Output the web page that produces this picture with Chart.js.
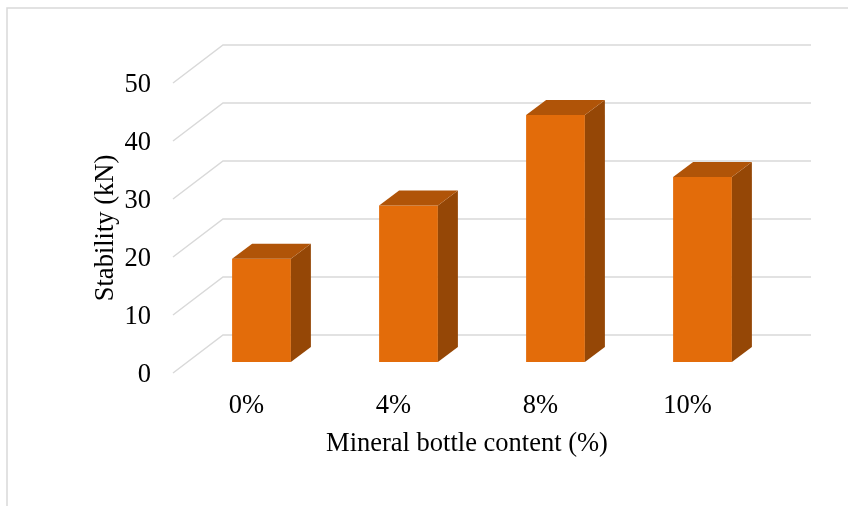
<!DOCTYPE html>
<html>
<head>
<meta charset="utf-8">
<script src="https://cdn.jsdelivr.net/npm/chart.js@4/dist/chart.umd.min.js"></script>
<style>
  html, body { margin: 0; padding: 0; background: #fff; }
  #wrap { width: 848px; height: 506px; }
</style>
</head>
<body>
<div id="wrap"><canvas id="stabilityChart"></canvas></div>
<script>
// Marshall stability for each mineral bottle content
const categories = ['0%', '4%', '8%', '10%'];
const stability = [17.8, 27.0, 42.6, 31.9];
const yRange = [0, 50, 10]; // min, max, step

// 3D look: wall depth, bar position in the depth, bar thickness
const WALL_DX = 50, WALL_DY = 38;
const BAR_OX = 15, BAR_OY = -11;
const BAR_DX = 20, BAR_DY = 15;

const FRONT = '#E36C0A';
const TOP = '#B05408';
const SIDE = '#954706';
const GRID = '#D9D9D9';

const serif = 'Liberation Serif, Times New Roman, serif';

// Draws the outer frame, the slanted gridlines and the bar sides/tops
const depth3d = {
    id: 'depth3d',
    beforeDraw(chart) {
        const ctx = chart.ctx;
        ctx.save();
        ctx.strokeStyle = GRID;
        ctx.lineWidth = 1.5;
        ctx.beginPath();
        ctx.moveTo(7, chart.height);
        ctx.lineTo(7, 8);
        ctx.lineTo(chart.width, 8);
        ctx.stroke();
        ctx.restore();
    },
    beforeDatasetsDraw(chart) {
        const ctx = chart.ctx;
        const { left, right } = chart.chartArea;
        const y = chart.scales.y;
        ctx.save();
        ctx.strokeStyle = GRID;
        ctx.lineWidth = 1.5;
        y.ticks.forEach(t => {
            const py = y.getPixelForValue(t.value);
            ctx.beginPath();
            ctx.moveTo(left, py);
            ctx.lineTo(left + WALL_DX, py - WALL_DY);
            ctx.lineTo(right + WALL_DX, py - WALL_DY);
            ctx.stroke();
        });
        ctx.restore();
        // front faces sit a bit back from the floor edge
        ctx.save();
        ctx.translate(BAR_OX, BAR_OY);
    },
    afterDatasetsDraw(chart) {
        const ctx = chart.ctx;
        ctx.restore();
        chart.getDatasetMeta(0).data.forEach(bar => {
            const { x, y, base, width } = bar.getProps(['x', 'y', 'base', 'width'], true);
            const l = x - width / 2 + BAR_OX;
            const r = x + width / 2 + BAR_OX;
            const t = y + BAR_OY;
            const b = base + BAR_OY;
            ctx.fillStyle = SIDE;
            ctx.beginPath();
            ctx.moveTo(r, t);
            ctx.lineTo(r + BAR_DX, t - BAR_DY);
            ctx.lineTo(r + BAR_DX, b - BAR_DY);
            ctx.lineTo(r, b);
            ctx.closePath();
            ctx.fill();
            ctx.fillStyle = TOP;
            ctx.beginPath();
            ctx.moveTo(l, t);
            ctx.lineTo(l + BAR_DX, t - BAR_DY);
            ctx.lineTo(r + BAR_DX, t - BAR_DY);
            ctx.lineTo(r, t);
            ctx.closePath();
            ctx.fill();
        });
    }
};

new Chart(document.getElementById('stabilityChart'), {
    type: 'bar',
    data: {
        labels: categories,
        datasets: [{
            data: stability,
            backgroundColor: FRONT,
            borderWidth: 0,
            barPercentage: 0.4,
            categoryPercentage: 1,
            clip: false
        }]
    },
    options: {
        responsive: true,
        maintainAspectRatio: false,
        animation: false,
        layout: { padding: { left: 60, right: 87, top: 83, bottom: 0 } },
        plugins: {
            legend: { display: false },
            tooltip: { enabled: false }
        },
        scales: {
            x: {
                grid: { display: false, drawTicks: false },
                border: { display: false },
                ticks: { color: '#000', padding: 17, font: { family: serif, size: 26.5 } },
                title: {
                    display: true,
                    text: 'Mineral bottle content (%)',
                    color: '#000',
                    padding: { top: 0, bottom: 46 },
                    font: { family: serif, size: 26.5 }
                },
                afterFit(scale) { scale.height = 133; }
            },
            y: {
                min: yRange[0],
                max: yRange[1],
                ticks: { stepSize: yRange[2], color: '#000', padding: 22, labelOffset: 2, font: { family: serif, size: 26.5 } },
                grid: { display: false, drawTicks: false },
                border: { display: false },
                title: {
                    display: true,
                    text: 'Stability (kN)',
                    color: '#000',
                    padding: { top: 30, bottom: 0 },
                    font: { family: serif, size: 26.5 }
                },
                afterFit(scale) { scale.width = 113; }
            }
        }
    },
    plugins: [depth3d]
});
</script>
</body>
</html>
